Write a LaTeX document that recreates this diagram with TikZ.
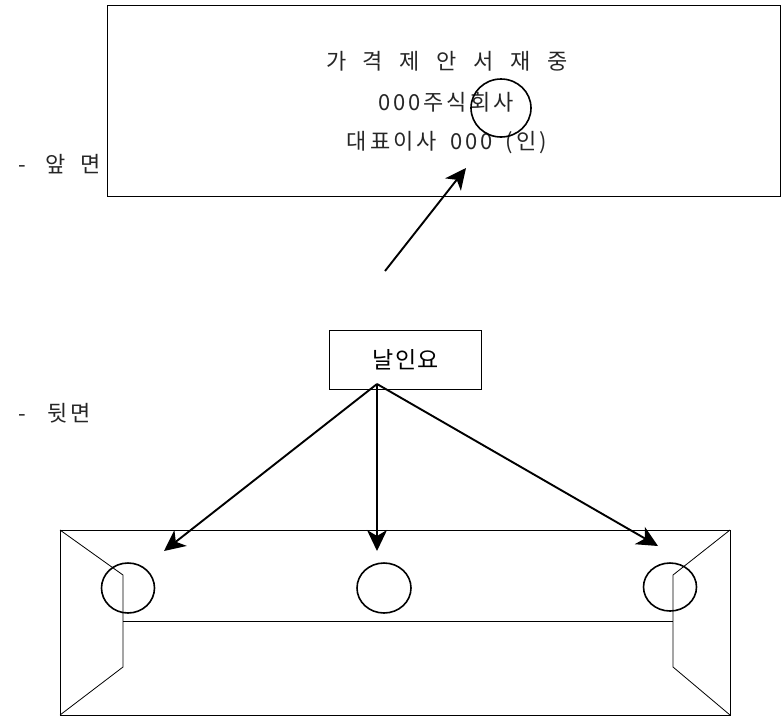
\documentclass[tikz,border=0pt]{standalone}
\usepackage{fontspec}
\setmainfont{Noto Sans CJK KR}[LetterSpace=5]
\usetikzlibrary{arrows.meta}
\tikzset{
  txt/.style={inner sep=0pt,font=\fontsize{22}{22}\selectfont,text=black!85},
  box/.style={draw,line width=1.2pt,fill=none},
  thin line/.style={line width=0.8pt},
  arr/.style={line width=1.9pt,-{Stealth[length=21pt,width=20pt,inset=6pt]}},
  ring/.style={line width=1.6pt}
}
\begin{document}
\begin{tikzpicture}[x=1pt,y=-1pt]
\useasboundingbox (0,0) rectangle (781,716);
\node[box,minimum width=673pt,minimum height=191pt,anchor=north west,inner sep=0pt] (front) at (107,5) {};
\node[txt] (t1) at (447,61) {\addfontfeature{LetterSpace=76}가격제안서재중};
\node[txt] (t2) at (446,102) {\addfontfeature{LetterSpace=13}000주식회사};
\node[txt] (t3) at (447,143) {\addfontfeature{LetterSpace=14}대표이사\hspace{5pt} 000\hspace{5pt} (인)};
\node[txt,anchor=west] (lf) at (18,164) {\addfontfeature{LetterSpace=66}- 앞면};
\node[txt,anchor=west] (lb) at (18,413) {\addfontfeature{LetterSpace=10}-\hspace{15pt} 뒷면};
\draw[ring] (501,108) ellipse [x radius=30,y radius=29];
\coordinate (up0) at (385,271);
\coordinate (up1) at (466,168);
\draw[arr] (up0) -- (up1);
\node[box,minimum width=152pt,minimum height=59pt,anchor=north west,inner sep=0pt,font=\fontsize{23}{23}\selectfont] (seal) at (329,330) {날인요};
\coordinate (src) at (377,384);
\coordinate (a1) at (164,551);
\coordinate (a2) at (377,551);
\coordinate (a3) at (658,546);
% back flap
\draw[line width=0.9pt] (60,530) rectangle (730,715);
\draw[thin line] (60,530) -- (123,575) -- (123,667) -- (60,715);
\draw[thin line] (730,530) -- (673,575) -- (673,667) -- (730,715);
\draw[thin line] (123,621) -- (673,621);
\draw[ring] (128,588) ellipse [x radius=26.5,y radius=25];
\draw[ring] (384,588) ellipse [x radius=27,y radius=25];
\draw[ring] (670,587) ellipse [x radius=26.5,y radius=24];
\draw[arr] (src) -- (a1);
\draw[arr] (src) -- (a2);
\draw[arr] (src) -- (a3);
\end{tikzpicture}
\end{document}
